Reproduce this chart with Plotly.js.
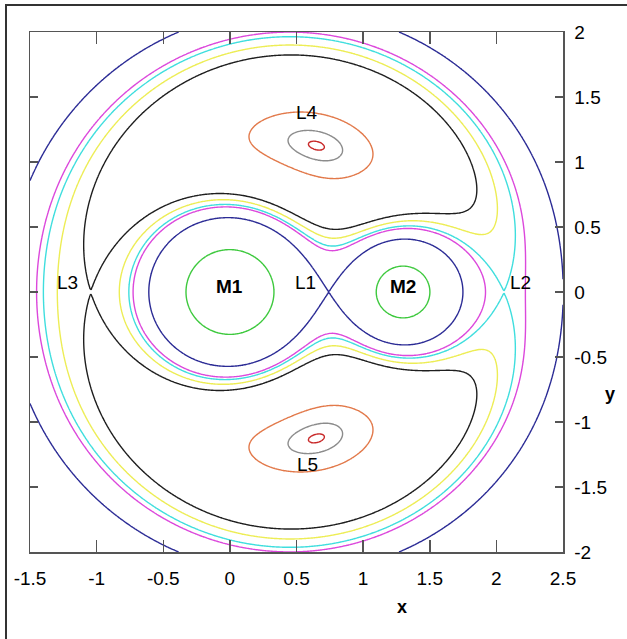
<!DOCTYPE html>
<html>
<head>
<meta charset="utf-8">
<script src="https://cdn.plot.ly/plotly-3.0.1.min.js"></script>
<style>
  html, body { margin: 0; padding: 0; background: #fff; }
  #wrap { position: relative; width: 627px; height: 639px; overflow: hidden; }
  #frame { position: absolute; left: 5px; top: 4px; width: 700px; height: 700px;
           border-left: 2px solid #333; border-top: 2px solid #333; pointer-events: none; }
  #plot { position: absolute; left: 0; top: 0; }
</style>
</head>
<body>
<div id="wrap"><div id="plot"></div><div id="frame"></div></div>
<script>
// ---- data ----
// primaries (positions along x, relative masses)
const bodyX    = [0.0, 1.3];
const bodyMass = [2, 1];

// contour levels of the effective potential and their colours
const levelNames  = ['green', 'blue (L1)', 'magenta', 'cyan (L2)', 'yellow', 'black (L3)', 'orange', 'gray', 'red'];
const levelValues = [3.07, 1.9728, 1.805, 1.7737, 1.72, 1.6607, 1.428, 1.397, 1.3896];
const levelColors = ['#3ec93e', '#2b2b95', '#dc48dc', '#3fdede', '#eded55', '#1e1e1e', '#e2794a', '#8c8c8c', '#c82828'];

// point labels
const pointLabels = ['L1', 'L2', 'L3', 'L4', 'L5', 'M1', 'M2'];
const labelX      = [0.57, 2.18, -1.22, 0.58, 0.58, 0.0, 1.30];
const labelY      = [0.07, 0.07, 0.07, 1.38, -1.33, 0.04, 0.04];

// ticks
const xTickVals = [-1.5, -1, -0.5, 0, 0.5, 1, 1.5, 2, 2.5];
const xTickText = ['-1.5', '-1', '-0.5', '0', '0.5', '1', '1.5', '2', '2.5'];
const yTickVals = [-2, -1.5, -1, -0.5, 0, 0.5, 1, 1.5, 2];
const yTickText = ['-2', '-1.5', '-1', '-0.5', '0', '0.5', '1', '1.5', '2'];

// ---- effective potential field of the restricted three-body problem ----
const mTot = bodyMass[0] + bodyMass[1];
const mu = bodyMass[1] / mTot;
const sep = bodyX[1] - bodyX[0];
const xc = (bodyMass[0] * bodyX[0] + bodyMass[1] * bodyX[1]) / mTot;
const step = 0.01;
const gx = [], gy = [];
for (let i = 0; i <= 400; i++) gx.push(-1.5 + i * step);
for (let j = 0; j <= 400; j++) gy.push(-2 + j * step);
const z = gy.map(function (y) {
  return gx.map(function (x) {
    const xi = (x - xc) / sep, eta = y / sep;
    const x1 = (bodyX[0] - xc) / sep, x2 = (bodyX[1] - xc) / sep;
    const r1 = Math.sqrt((xi - x1) * (xi - x1) + eta * eta);
    const r2 = Math.sqrt((xi - x2) * (xi - x2) + eta * eta);
    const v = 0.5 * (xi * xi + eta * eta) + (1 - mu) / Math.max(r1, 1e-4) + mu / Math.max(r2, 1e-4);
    return Math.min(v, 20);
  });
});

const fontFam = 'Liberation Sans, Arial, sans-serif';

const traces = levelValues.map(function (v, k) {
  return {
    type: 'contour', x: gx, y: gy, z: z, name: levelNames[k],
    autocontour: false,
    contours: { start: v, end: v, size: 1, coloring: 'none', showlabels: false },
    line: { color: levelColors[k], width: 1.4, smoothing: 0.6 },
    showscale: false, hoverinfo: 'skip'
  };
});

const annotations = pointLabels.map(function (t, k) {
  const bold = t.charAt(0) === 'M';
  return {
    x: labelX[k], y: labelY[k], xref: 'x', yref: 'y', text: bold ? '<b>' + t + '</b>' : t,
    showarrow: false, font: { family: fontFam, size: 19, color: '#000' },
    xanchor: 'center', yanchor: 'middle'
  };
});
annotations.push({ x: 402, y: 607, xref: 'paper', yref: 'paper', text: '<b>x</b>', showarrow: false,
  font: { family: fontFam, size: 18, color: '#000' } });
annotations.push({ x: 610, y: 394, xref: 'paper', yref: 'paper', text: '<b>y</b>', showarrow: false,
  font: { family: fontFam, size: 18, color: '#000' } });

// convert pixel positions of axis letters to paper coords
const L = 30, T = 32, W = 533, H = 520;
annotations.forEach(function (a) {
  if (a.xref === 'paper') {
    a.x = (a.x - L) / W; a.y = (L + H + 2 - a.y) / H;
    a.xanchor = 'center'; a.yanchor = 'middle';
  }
});

const axisCommon = {
  showgrid: false, zeroline: false, showline: true, linecolor: '#555', linewidth: 1.5,
  ticks: 'inside', mirror: 'ticks', tickcolor: '#555', tickwidth: 1.5,
  tickfont: { family: fontFam, size: 19, color: '#000' }, tickmode: 'array'
};

const layout = {
  width: 627, height: 639,
  margin: { l: L, r: 627 - L - W, t: T, b: 639 - T - H },
  paper_bgcolor: '#fff', plot_bgcolor: '#fff', showlegend: false,
  xaxis: Object.assign({}, axisCommon, { range: [-1.5, 2.5], tickvals: xTickVals, ticktext: xTickText, ticklen: 12, ticklabelstandoff: 9 }),
  yaxis: Object.assign({}, axisCommon, { range: [-2, 2], tickvals: yTickVals, ticktext: yTickText, ticklen: 8, side: 'right', ticklabelstandoff: 6 }),
  annotations: annotations
};

Plotly.newPlot('plot', traces, layout, { staticPlot: true });
</script>
</body>
</html>
